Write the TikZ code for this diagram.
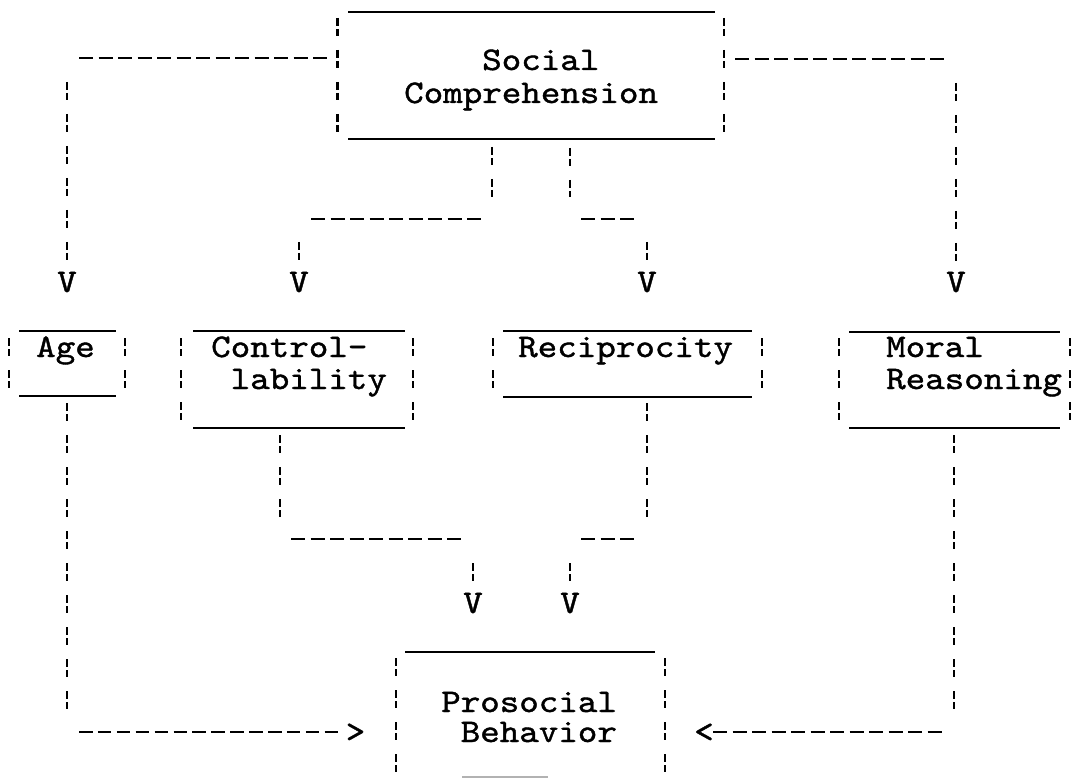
\documentclass[tikz,border=0pt]{standalone}
\usepackage{fontspec}
\newfontfamily\twfont{lmmono10-regular}[Extension=.otf, FakeStretch=1.127, FakeBold=1.2]
\begin{document}
\begin{tikzpicture}[x=1pt,y=-1pt,
  twtext/.style={font=\twfont\fontsize{33}{33}\selectfont, inner sep=0pt, anchor=base west},
  twhead/.style={font=\twfont\fontsize{33}{33}\selectfont, inner sep=0pt, anchor=base},
  hdash/.style={line width=2.6pt, dash pattern=on 14pt off 5.5pt},
  adash/.style={line width=2.6pt, dash pattern=on 13.5pt off 5.4pt},
  vdash/.style={line width=2.3pt, dash pattern=on 8pt off 3pt on 7pt off 14pt},
  rulel/.style={line width=2pt}]
\useasboundingbox (0,0) rectangle (1077,778);
\fill[white] (0,0) rectangle (1077,778);

% ---------- box frames ----------
\newcommand\twbox[8]{%
  \draw[rulel] (#3,#5) -- (#4,#5) (#3,#6) -- (#4,#6);
  \draw[vdash] (#1,#7) -- (#1,#8) (#2,#7) -- (#2,#8);}
% Social Comprehension
\twbox{337.5}{724}{348}{715}{12}{139}{18}{132}
% Age
\twbox{9}{125}{19}{116}{331}{396}{338}{388}
% Controllability
\twbox{181}{413}{193}{405}{331}{428}{338}{420}
% Reciprocity
\twbox{493}{762}{503}{752}{331}{397}{338}{388}
% Moral Reasoning
\twbox{839}{1070}{849}{1060}{332}{428}{338}{420}
% Prosocial Behavior
\draw[rulel] (405,651.5) -- (655,651.5);
\draw[vdash] (396,658) -- (396,778) (665,658) -- (665,778);
\draw[line width=1.6pt, black!30] (462,776.8) -- (548,776.8);

% ---------- texts ----------
\node[twtext] (soc)  at (482,70)  {Social};
\node[twtext] (soc2) at (404,103) {Comprehension};
\node[twtext] (age)  at (36,357)  {Age};
\node[twtext] (ctl)  at (211,357) {Control-};
\node[twtext] (ctl2) at (230.5,389) {lability};
\node[twtext] (rec)  at (518,357) {Reciprocity};
\node[twtext] (mor)  at (886,357) {Moral};
\node[twtext] (mor2) at (886,389) {Reasoning};
\node[twtext] (pro)  at (441,712) {Prosocial};
\node[twtext] (pro2) at (460.5,742) {Behavior};

% ---------- arrow heads (typed) ----------
\node[twhead] (vage) at (67,292)  {V};
\node[twhead] (vctl) at (299,292) {V};
\node[twhead] (vrec) at (647,292) {V};
\node[twhead] (vmor) at (956,292) {V};
\node[twhead] (vpa)  at (473,613) {V};
\node[twhead] (vpb)  at (570,613) {V};
\node[twhead] (gage) at (355.5,742) {>};
\node[twhead] (gmor) at (704,742) {<};

% ---------- connector points ----------
\coordinate (sa1) at (79,58);   \coordinate (sa2) at (327,58);
\coordinate (sa3) at (67,82);   \coordinate (sa4) at (67,261);
\coordinate (sm1) at (735,59);  \coordinate (sm2) at (944,59);
\coordinate (sm3) at (956,83);  \coordinate (sm4) at (956,261);
\coordinate (sc1) at (492,147); \coordinate (sc2) at (492,197);
\coordinate (sc3) at (311,219); \coordinate (sc4) at (481,219);
\coordinate (sc5) at (299,242); \coordinate (sc6) at (299,261);
\coordinate (sr1) at (570,148); \coordinate (sr2) at (570,197);
\coordinate (sr3) at (581,219); \coordinate (sr4) at (635,219);
\coordinate (sr5) at (647,242); \coordinate (sr6) at (647,261);
\coordinate (ap1) at (67,403);  \coordinate (ap2) at (67,710);
\coordinate (ap3) at (79,732);  \coordinate (ap4) at (338.5,732);
\coordinate (mp1) at (954,435); \coordinate (mp2) at (954,710);
\coordinate (mp3) at (713,732); \coordinate (mp4) at (942,732);
\coordinate (cp1) at (280,435); \coordinate (cp2) at (280,518);
\coordinate (cp3) at (291,539); \coordinate (cp4) at (461,539);
\coordinate (cp5) at (473,563); \coordinate (cp6) at (473,582);
\coordinate (rp1) at (647,403); \coordinate (rp2) at (647,518);
\coordinate (rp3) at (581,539); \coordinate (rp4) at (635,539);
\coordinate (rp5) at (570,563); \coordinate (rp6) at (570,582);

% ---------- connectors ----------
% Social Comprehension -> Age
\draw[hdash] (sa1) -- (sa2);
\draw[vdash] (sa3) -- (sa4);
% Social Comprehension -> Moral Reasoning
\draw[hdash] (sm1) -- (sm2);
\draw[vdash] (sm3) -- (sm4);
% Social Comprehension -> Controllability
\draw[vdash] (sc1) -- (sc2);
\draw[hdash] (sc3) -- (sc4);
\draw[vdash] (sc5) -- (sc6);
% Social Comprehension -> Reciprocity
\draw[vdash] (sr1) -- (sr2);
\draw[hdash] (sr3) -- (sr4);
\draw[vdash] (sr5) -- (sr6);
% Age -> Prosocial Behavior
\draw[vdash] (ap1) -- (ap2);
\draw[adash] (ap3) -- (ap4);
% Moral Reasoning -> Prosocial Behavior
\draw[vdash] (mp1) -- (mp2);
\draw[hdash] (mp3) -- (mp4);
% Controllability -> Prosocial Behavior
\draw[vdash] (cp1) -- (cp2);
\draw[hdash] (cp3) -- (cp4);
\draw[vdash] (cp5) -- (cp6);
% Reciprocity -> Prosocial Behavior
\draw[vdash] (rp1) -- (rp2);
\draw[hdash] (rp3) -- (rp4);
\draw[vdash] (rp5) -- (rp6);
\end{tikzpicture}
\end{document}
